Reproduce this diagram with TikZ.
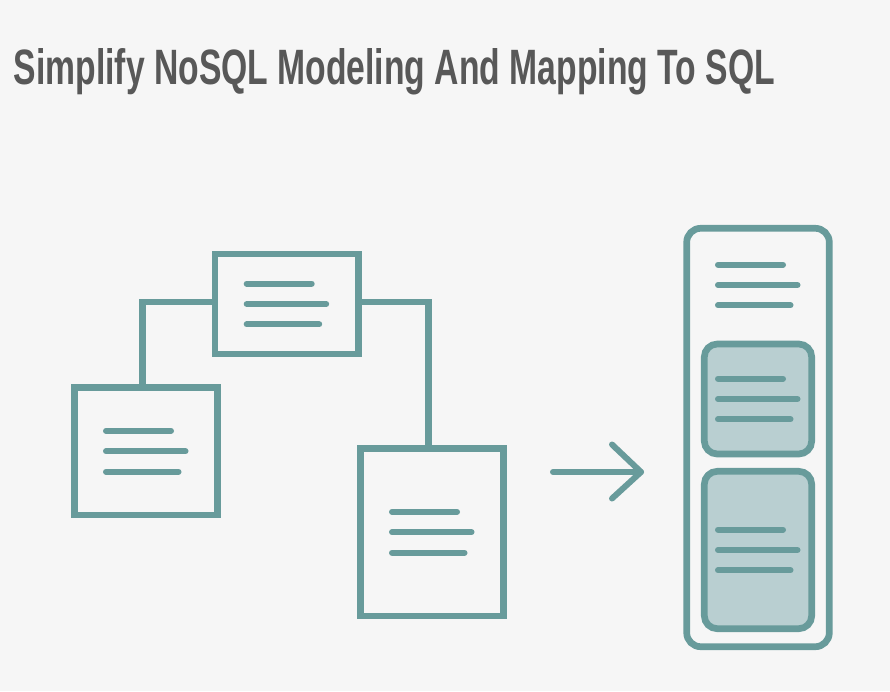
\documentclass[tikz,border=0pt]{standalone}
\usepackage{fontspec}
\setmainfont{Liberation Sans}
\usetikzlibrary{positioning,calc}
\definecolor{docteal}{HTML}{689B9B}
\definecolor{tabfill}{HTML}{B9CFD1}
\definecolor{titlegray}{HTML}{585858}
\definecolor{pagebg}{HTML}{F6F6F6}

% three text lines centred on a node or coordinate
\newcommand{\doclines}[1]{%
  \foreach \dy/\len in {-20.4/65,0/79.5,20.4/72.5}
    \draw[txtline] ($(#1)+(-40,\dy)$) -- ++(\len,0);
}

\begin{document}
\begin{tikzpicture}[x=1pt,y=-1pt,
    box/.style={draw=docteal, line width=6.7pt, minimum width=143.4pt, inner sep=0pt, outer sep=0pt},
    tablebox/.style={draw=docteal, line width=6.7pt, rounded corners=13pt, inner sep=0pt, outer sep=0pt},
    txtline/.style={draw=docteal, line width=6pt, line cap=round},
    link/.style={draw=docteal, line width=6.7pt},
    pointer/.style={draw=docteal, line width=6pt, line cap=round, line join=round}]
    \fill[pagebg] (0,0) rectangle (890,691);
    \useasboundingbox (0,0) rectangle (890,691);

    \node[anchor=base west, inner sep=0pt, text=titlegray] (title) at (13.5,84.5)
      {\resizebox{761pt}{36pt}{\bfseries Simplify NoSQL Modeling And Mapping To SQL}};

    % document tree
    \node [box, minimum height=100pt] (root) at (286.7,304) {};
    \node [box, minimum height=127.3pt] (leftdoc) at (146,451.3) {};
    \node [box, minimum height=167.7pt] (rightdoc) at (432,532.2) {};
    \path[link]
    ([yshift=2pt]root.west) -| ([xshift=-3.7pt]leftdoc.north)
    ([yshift=2pt]root.east) -| ([xshift=-3.2pt]rightdoc.north)
    ;
    \doclines{root}
    \doclines{leftdoc}
    \doclines{rightdoc}

    % mapping arrow
    \coordinate (arrowstart) at (553,472);
    \coordinate (arrowtip) at (641,472);
    \draw[pointer] (arrowstart) -- (arrowtip);
    \draw[pointer] (612,444.5) -- (arrowtip) -- (612,498.5);

    % table
    \node [tablebox, rounded corners=14pt, minimum width=142.6pt, minimum height=418.4pt] (sqlbox) at (758,437.5) {};
    \node [tablebox, fill=tabfill, minimum width=107.4pt, minimum height=110pt] (tab1) at (758,399) {};
    \node [tablebox, fill=tabfill, minimum width=107.4pt, minimum height=157.4pt] (tab2) at (758,550) {};
    \coordinate (sqlhead) at (758,285);
    \doclines{sqlhead}
    \doclines{tab1}
    \doclines{tab2}
\end{tikzpicture}
\end{document}
